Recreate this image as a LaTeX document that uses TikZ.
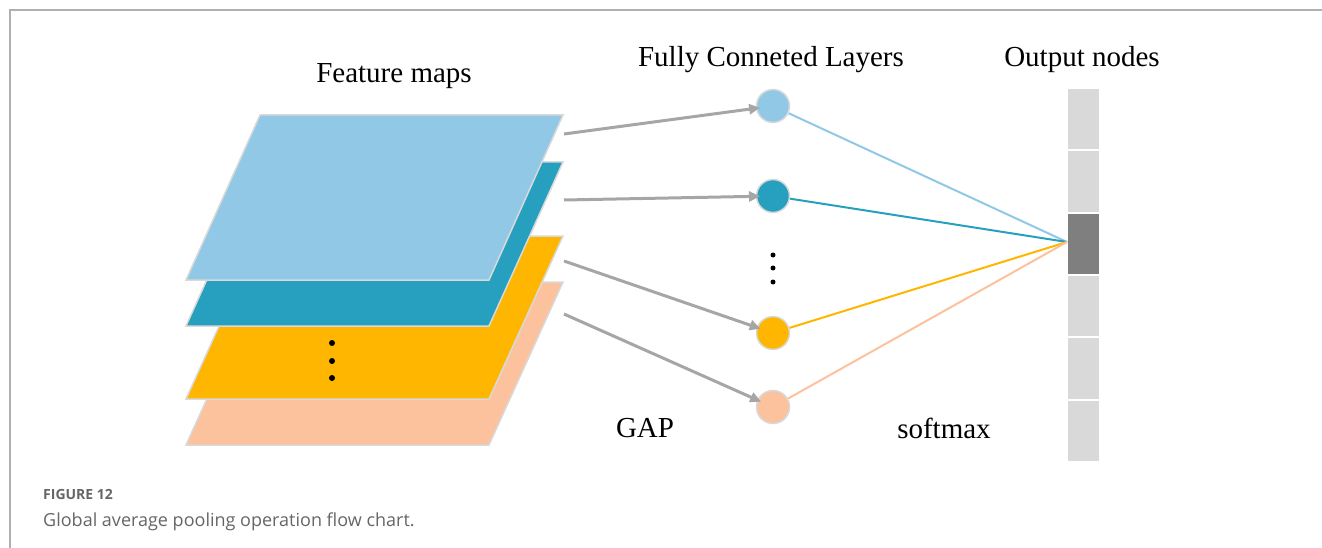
\documentclass[tikz,border=0pt]{standalone}
\usepackage{fontspec}
\setmainfont{Liberation Serif}
\newfontfamily\capfont{Open Sans}
\usetikzlibrary{arrows.meta}
\definecolor{lblue}{HTML}{90C8E6}
\definecolor{teal2}{HTML}{279FBE}
\definecolor{orng}{HTML}{FFB600}
\definecolor{peach}{HTML}{FCC29D}
\definecolor{edgegray}{HTML}{D9D9D9}
\definecolor{arrgray}{HTML}{A6A6A6}
\definecolor{cellgray}{HTML}{D9D9D9}
\definecolor{celldark}{HTML}{7F7F7F}
\definecolor{framegray}{HTML}{B0B0B0}
\definecolor{captgray}{HTML}{666666}
\tikzset{
  layer/.style={draw=edgegray, line width=1.5pt, line join=miter},
  fcnode/.style={circle, draw=edgegray, line width=1.5pt, minimum size=33pt, inner sep=0pt},
  gaparrow/.style={draw=arrgray, line width=3pt, -{Triangle[length=11pt,width=10pt]}, shorten >=13pt},
  title/.style={font=\fontsize{29}{32}\selectfont, inner sep=0pt},
  cell/.style={draw=white, line width=2pt, minimum width=33pt, minimum height=62.3pt, inner sep=0pt},
  dot/.style={circle, fill=black, inner sep=0pt, minimum size=6pt},
  fcline/.style={line width=2pt},
}
\begin{document}
\begin{tikzpicture}[x=1pt,y=-1pt]
\useasboundingbox (0,0) rectangle (1322,548);
% frame
\draw[framegray, line width=1.5pt] (10,548) -- (10,10) -- (1322,10);
% layers, bottom to top
\filldraw[layer, fill=peach] (260,282) -- (563,282) -- (489,445) -- (186,445) -- cycle;
\filldraw[layer, fill=orng] (260,236) -- (563,236) -- (489,399) -- (186,399) -- cycle;
\filldraw[layer, fill=teal2] (260,162) -- (563,162) -- (489,326) -- (186,326) -- cycle;
\filldraw[layer, fill=lblue] (260,115) -- (563,115) -- (489,280) -- (186,280) -- cycle;
\node[dot] (ld1) at (332,343) {};
\node[dot] (ld2) at (332,361) {};
\node[dot] (ld3) at (332,378) {};
% arrow starts
\coordinate (s1) at (564,134);
\coordinate (s2) at (564,200);
\coordinate (s3) at (564,261);
\coordinate (s4) at (564,314);
% FC nodes
\node[fcnode, fill=lblue] (c1) at (773,106) {};
\node[fcnode, fill=teal2] (c2) at (773,196) {};
\node[fcnode, fill=orng] (c3) at (773,333) {};
\node[fcnode, fill=peach] (c4) at (773,407) {};
\node[dot, minimum size=5pt] (fd1) at (773,255) {};
\node[dot, minimum size=5pt] (fd2) at (773,268) {};
\node[dot, minimum size=5pt] (fd3) at (773,282) {};
\draw[gaparrow] (s1) -- (c1.center);
\draw[gaparrow] (s2) -- (c2.center);
\draw[gaparrow] (s3) -- (c3.center);
\draw[gaparrow] (s4) -- (c4.center);
% output cells
\foreach \i/\col in {0/cellgray,1/cellgray,2/celldark,3/cellgray,4/cellgray,5/cellgray}{
  \node[cell, fill=\col] (o\i) at (1083.5,{88+62.3*\i+31.15}) {};
}
\coordinate (conv) at (1067,242);
\draw[fcline, lblue] (c1) -- (conv);
\draw[fcline, teal2] (c2) -- (conv);
\draw[fcline, orng] (c3) -- (conv);
\draw[fcline, peach] (c4) -- (conv);
% labels
\node[title] (t1) at (394,76) {Feature maps};
\node[title] (t2) at (771,60) {Fully Conneted Layers};
\node[title] (t3) at (1082,60) {Output nodes};
\node[title] (t4) at (645,428) {GAP};
\node[title] (t5) at (944,428) {softmax};
% caption
\node[anchor=west, inner sep=0pt, text=captgray, font=\capfont\bfseries\fontsize{14}{16}\selectfont] (cap1) at (43,494) {FIGURE 12};
\node[anchor=west, inner sep=0pt, text=captgray, font=\capfont\fontsize{18}{21}\selectfont] (cap2) at (43,522) {Global average pooling operation flow chart.};
\end{tikzpicture}
\end{document}
